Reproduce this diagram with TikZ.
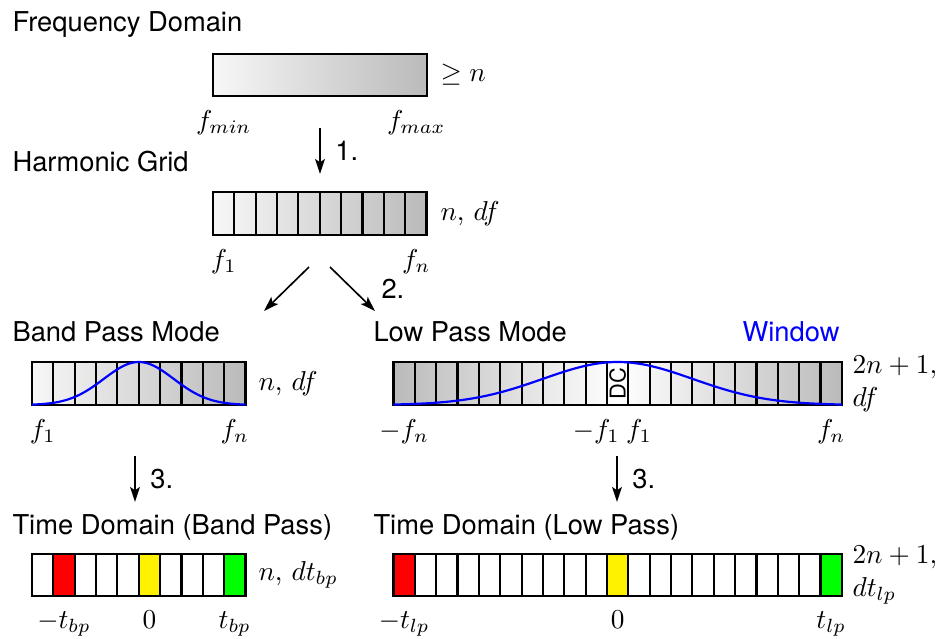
\documentclass[tikz,border=0pt]{standalone}
\usepackage{amsmath, amssymb}
\usepackage{fontspec}
\setsansfont{TeX Gyre Heros}
\usepackage{tikz}
\usetikzlibrary{arrows.meta}
\usetikzlibrary{positioning}
\tikzset{
    heading/.style={
        anchor=base west,
        inner sep=0pt,
        font=\sffamily
    },
    freqlabel/.style={
        anchor=base,
        inner sep=0pt
    },
    sizelabel/.style={
        anchor=west,
        inner sep=0pt,
        align=left
    },
    stepArrow/.style={
        semithick,
        -{Stealth[length=5.5pt, width=3.6pt, inset=1.2pt]}
    }
}

\begin{document}
\begin{tikzpicture}[x=0.366pt, y=-0.366pt]
  \tikzset{
    cell/.style={
      thick,
    },
    window/.style={
      thick,
      blue,
    },
    greybar/.style={
      left color=black!3,
      right color=black!27,
    }
  }
  \useasboundingbox (0,0) rectangle (941,639);
  \def\w{21.35}

  % Frequency domain
  \node[heading] (fdom) at (12,31) {Frequency Domain};
  \shade[greybar] (213,54) rectangle (427,96);
  \draw[cell] (213,54) rectangle (427,96);
  \node[freqlabel] (fmin) at (223.7,129) {$f_{min}$};
  \node[freqlabel] (fmax) at (416.3,129) {$f_{max}$};
  \node[sizelabel] (geqn) at (440,75) {$\geq n$};

  % Step 1
  \coordinate (s1) at (320,128);
  \coordinate (e1) at (320,174);
  \draw[stepArrow] (s1) -- (e1) node[midway, right=2pt, font=\sffamily] {1.};

  % Harmonic grid
  \node[heading] (hgrid) at (12,171) {Harmonic Grid};
  \shade[greybar] (213,192) rectangle ++(10*\w,43);
  \foreach \i in {0,...,9}
    \draw[cell] (213+\i*\w,192) rectangle ++(\w,43);
  \node[freqlabel] (gf1) at (223.7,268) {$f_1$};
  \node[freqlabel] (gfn) at (416.3,268) {$f_n$};
  \node[sizelabel] (gsize) at (440,213.5) {$n$, $df$};

  % Step 2
  \coordinate (s2a) at (309,267);
  \coordinate (e2a) at (264,311);
  \coordinate (s2b) at (330,267);
  \coordinate (e2b) at (375,311);
  \draw[stepArrow] (s2a) -- (e2a);
  \draw[stepArrow] (s2b) -- (e2b) node[midway, right=7pt, font=\sffamily] {2.};

  % Band pass mode
  \node[heading] (bpmode) at (12,341) {Band Pass Mode};
  \shade[greybar] (32,362) rectangle ++(10*\w,43);
  \foreach \i in {0,...,9}
    \draw[cell] (32+\i*\w,362) rectangle ++(\w,43);
  \draw[window] plot[domain=32:245.5, samples=80]
    (\x, {405-43*exp(-((\x-138.75)/35)^2/2)});
  \node[freqlabel] (bf1) at (42.7,438) {$f_1$};
  \node[freqlabel] (bfn) at (234.8,438) {$f_n$};
  \node[sizelabel] (bsize) at (258,383.5) {$n$, $df$};

  % Low pass mode
  \node[heading] (lpmode) at (373,341) {Low Pass Mode};
  \node[heading, anchor=base east, blue] (win) at (840,341) {Window};
  \shade[left color=black!27, right color=white] (393.5,362) rectangle (617.7,405);
  \shade[left color=white, right color=black!27] (617.7,362) rectangle (841.8,405);
  \foreach \i in {0,...,20}
    \draw[cell] (393.5+\i*\w,362) rectangle ++(\w,43);
  \draw[window] plot[domain=393.5:841.8, samples=120]
    (\x, {405-43*exp(-((\x-617.7)/75)^2/2)});
  \node[rotate=90, font=\sffamily\footnotesize, inner sep=0pt] (dc) at (617.7,383.5) {DC};
  \node[freqlabel] (lfn1) at (404.2,438) {$-f_n$};
  \node[freqlabel] (lf11) at (596.3,438) {$-f_1$};
  \node[freqlabel] (lf12) at (639,438) {$f_1$};
  \node[freqlabel] (lfn2) at (831.2,438) {$f_n$};
  \node[sizelabel] (lsize) at (852,383.5) {$2n+1,$\\$df$};

  % Step 3
  \coordinate (s3a) at (135,456);
  \coordinate (e3a) at (135,502);
  \coordinate (s3b) at (617,456);
  \coordinate (e3b) at (617,502);
  \draw[stepArrow] (s3a) -- (e3a) node[midway, right=2pt, font=\sffamily] {3.};
  \draw[stepArrow] (s3b) -- (e3b) node[midway, right=2pt, font=\sffamily] {3.};

  % Time domain (band pass)
  \node[heading] (tbp) at (12,534) {Time Domain (Band Pass)};
  \foreach \i in {0,...,9}
    \draw[cell, fill=white] (32+\i*\w,554) rectangle ++(\w,42);
  \draw[cell, fill=red] (32+1*\w,554) rectangle ++(\w,42);
  \draw[cell, fill=yellow] (32+5*\w,554) rectangle ++(\w,42);
  \draw[cell, fill=green] (32+9*\w,554) rectangle ++(\w,42);
  \node[freqlabel] (tb1) at (64,628) {$-t_{bp}$};
  \node[freqlabel] (tb0) at (149.4,628) {$0$};
  \node[freqlabel] (tb2) at (234.8,628) {$t_{bp}$};
  \node[sizelabel] (tbsize) at (258,575) {$n$, $dt_{bp}$};

  % Time domain (low pass)
  \node[heading] (tlp) at (373,534) {Time Domain (Low Pass)};
  \foreach \i in {0,...,20}
    \draw[cell, fill=white] (393.5+\i*\w,554) rectangle ++(\w,42);
  \draw[cell, fill=red] (393.5,554) rectangle ++(\w,42);
  \draw[cell, fill=yellow] (393.5+10*\w,554) rectangle ++(\w,42);
  \draw[cell, fill=green] (393.5+20*\w,554) rectangle ++(\w,42);
  \node[freqlabel] (tl1) at (404.2,628) {$-t_{lp}$};
  \node[freqlabel] (tl0) at (617.7,628) {$0$};
  \node[freqlabel] (tl2) at (831.2,628) {$t_{lp}$};
  \node[sizelabel] (tlsize) at (852,575) {$2n+1,$\\$dt_{lp}$};
\end{tikzpicture}
\end{document}
